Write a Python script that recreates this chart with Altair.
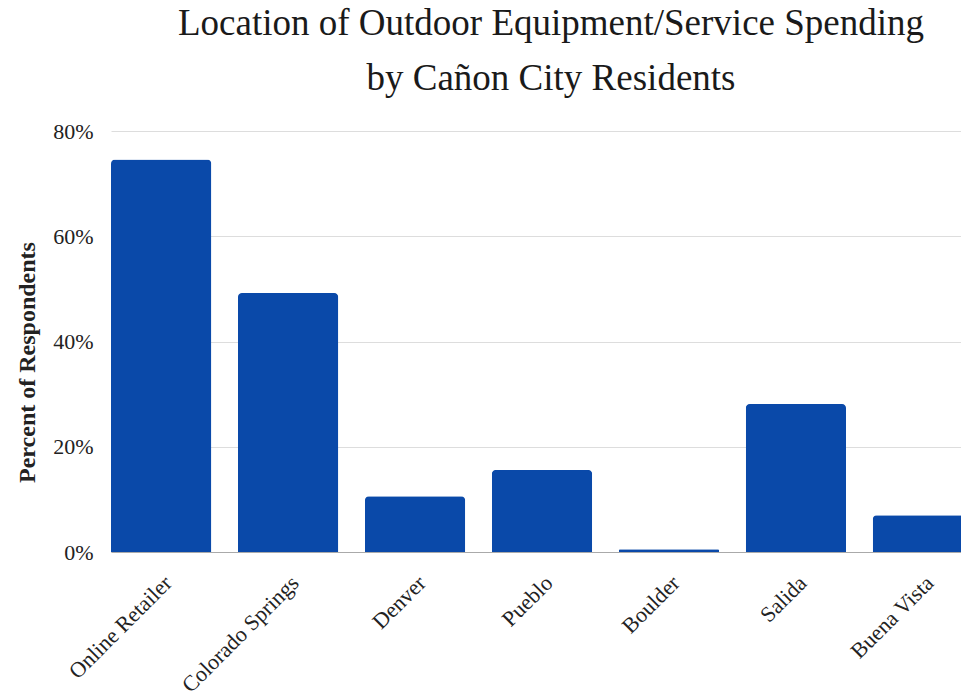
import altair as alt
import pandas as pd

categories = ["Online Retailer", "Colorado Springs", "Denver", "Pueblo", "Boulder", "Salida", "Buena Vista"]
values = [74.6, 49.2, 10.6, 15.6, 0.5, 28.1, 7.0]
y_ticks = [0, 20, 40, 60, 80]

df = pd.DataFrame({"Location": categories, "Percent": [v / 100 for v in values]})

FONT = "Liberation Serif"

chart = alt.Chart(df).mark_bar(
    color="#0a49a9", cornerRadiusTopLeft=4, cornerRadiusTopRight=4
).encode(
    x=alt.X("Location:N", sort=categories,
            scale=alt.Scale(range=[0, 862], paddingInner=0.21, paddingOuter=0),
            axis=alt.Axis(title=None, labelAngle=-45, labelFont=FONT, labelFontSize=22,
                          labelColor="#222222", ticks=False, domainColor="#aaaaaa",
                          labelPadding=20, grid=False)),
    y=alt.Y("Percent:Q", scale=alt.Scale(domain=[0, 0.8]),
            axis=alt.Axis(title="Percent of Respondents", format=".0%", values=[t / 100 for t in y_ticks],
                          labelFont=FONT, labelFontSize=22, labelColor="#222222",
                          labelPadding=18, ticks=False, domain=False,
                          gridColor="#dddddd", titleFont=FONT, titleFontSize=24,
                          titleFontWeight="bold", titleColor="#222222",
                          titleAngle=-90, titleX=-84, titleY=231,
                          titleAlign="center", titleBaseline="middle")),
).properties(
    width=850, height=421,
    title=alt.TitleParams(
        ["Location of Outdoor Equipment/Service Spending", "by Cañon City Residents"],
        font=FONT, fontSize=37, fontWeight="normal", color="#1a1a1a",
        anchor="middle", lineHeight=55, dx=15, offset=22),
    padding={"left": 111, "top": 131, "right": 0, "bottom": 148},
    autosize=alt.AutoSizeParams(type="none"),
).configure_view(stroke=None)

chart.save("out.html", embed_options={"renderer": "svg", "actions": False})
